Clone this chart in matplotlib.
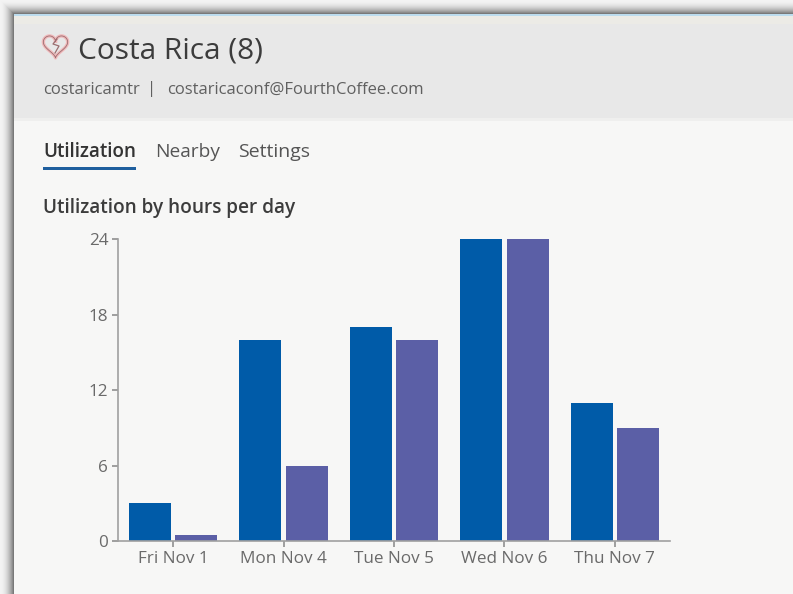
import numpy as np
import matplotlib
matplotlib.use('Agg')
import matplotlib.pyplot as plt
from matplotlib.patches import Rectangle

days = ['Fri Nov 1', 'Mon Nov 4', 'Tue Nov 5', 'Wed Nov 6', 'Thu Nov 7']
blue_hours = [3, 16, 17, 24, 11]
purple_hours = [0.5, 6, 16, 24, 9]
y_ticks = [0, 6, 12, 18, 24]

W, H = 793, 594
plt.rcParams['font.family'] = ['Open Sans', 'DejaVu Sans']

fig = plt.figure(figsize=(W / 100, H / 100), dpi=100)

# page behind the chart, in pixel coordinates
bg = fig.add_axes([0, 0, 1, 1])
bg.set_xlim(0, W)
bg.set_ylim(H, 0)
bg.axis('off')

# shadow round the window: light at the edge, dark next to it
fade = np.linspace(0, 1, 14) ** 2
shadow = np.ones((H, W))
for i, f in enumerate(fade):
    level = 0.95 - 0.47 * f
    shadow[i:, i:] = level
bg.imshow(shadow, cmap='gray', vmin=0, vmax=1, extent=(0, W, H, 0), aspect='auto', zorder=0)

bg.add_patch(Rectangle((14, 14), W, H, color='#f7f7f6', lw=0, zorder=1))
bg.add_patch(Rectangle((14, 14), W, 104, color='#e8e8e8', lw=0, zorder=1))
bg.add_patch(Rectangle((14, 118), W, 3, color='#efefee', lw=0, zorder=1))
bg.add_patch(Rectangle((14, 14), W, 2, color='#bcdcee', lw=0, zorder=2))
bg.add_patch(Rectangle((14, 16), W, 8, color='#ecebe6', lw=0, zorder=2))

# broken heart icon
heart_t = np.linspace(0, 2 * np.pi, 100)
heart_x = 55.5 + 0.76 * 16 * np.sin(heart_t) ** 3
heart_y = 45 - 0.76 * (13 * np.cos(heart_t) - 5 * np.cos(2 * heart_t)
                       - 2 * np.cos(3 * heart_t) - np.cos(4 * heart_t))
bg.plot(heart_x, heart_y, color='#f0b8ba', lw=2.4, zorder=3)
bg.plot(heart_x, heart_y, color='#9a6e70', lw=0.6, zorder=3)
bg.plot([57, 53, 59, 55], [39, 44, 46, 53], color='#9a6e70', lw=0.9, zorder=4)

bg.text(78, 51, 'Costa Rica (8)', fontsize=21.5, color='#3c3c3c', va='center', zorder=5)
bg.text(43, 90, 'costaricamtr', fontsize=12, color='#606060', va='center', zorder=5)
bg.text(152, 89, '|', fontsize=12, color='#606060', va='center', ha='center', zorder=5)
bg.text(167, 90, 'costaricaconf@FourthCoffee.com', fontsize=12, color='#606060', va='center', zorder=5)

bg.text(43, 152, 'Utilization', fontsize=13.6, color='#333333', va='center', weight='semibold', zorder=5)
bg.text(155, 152, 'Nearby', fontsize=13.8, color='#555555', va='center', zorder=5)
bg.text(238, 152, 'Settings', fontsize=14, color='#555555', va='center', zorder=5)
bg.add_patch(Rectangle((43, 167), 93, 3, color='#1f5f9e', lw=0, zorder=5))

bg.text(43, 208, 'Utilization by hours per day', fontsize=13.7, color='#3c3c3c', va='center',
        weight='semibold', zorder=5)

# the chart itself
ax = fig.add_axes([118 / W, 1 - 541 / H, (670 - 118) / W, (541 - 239) / H])
ax.patch.set_alpha(0)
x = np.arange(len(days))
ax.bar(x - 0.21, blue_hours, width=0.38, color='#005ba8')
ax.bar(x + 0.21, purple_hours, width=0.38, color='#5b5fa6')

ax.set_xlim(-0.5, 4.5)
ax.set_ylim(0, 24)
ax.set_xticks(x, days)
ax.set_yticks(y_ticks)
ax.tick_params(axis='both', colors='#8f8f8f', labelcolor='#6a6a6a', labelsize=12.3, length=4, width=1.2, pad=3)
ax.spines['top'].set_visible(False)
ax.spines['right'].set_visible(False)
ax.spines['left'].set_color('#a0a0a0')
ax.spines['bottom'].set_color('#a0a0a0')
ax.spines['left'].set_linewidth(1.2)
ax.spines['bottom'].set_linewidth(1.2)

fig.savefig('out.png', dpi=100)
